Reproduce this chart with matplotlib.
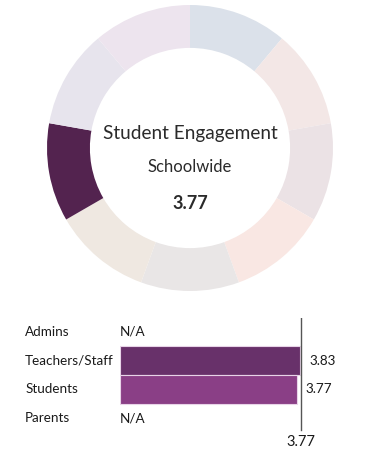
import numpy as np
import matplotlib
matplotlib.use("Agg")
import matplotlib.pyplot as plt

plt.rcParams['font.family'] = ['Lato', 'DejaVu Sans']

# donut: 9 equal domains, only one highlighted
domain_sizes = [1, 1, 1, 1, 1, 1, 1, 1, 1]
domain_colors = ['#dbe1ea', '#f3e7e6', '#ebe2e5', '#f9e7e3', '#e9e6e6',
                 '#efe8e1', '#53234f', '#e7e4ed', '#ede4ee']
title = "Student Engagement"
subtitle = "Schoolwide"
overall = 3.77

# bars
groups = ["Admins", "Teachers/Staff", "Students", "Parents"]
scores = [None, 3.83, 3.77, None]
bar_colors = ['#68316a', '#8a3f86']

fig = plt.figure(figsize=(3.65, 4.66), dpi=100)

ax = fig.add_axes([47/365, 1 - 291/466, 286/365, 286/466])
ax.pie(domain_sizes, colors=domain_colors, startangle=90, counterclock=False,
       wedgeprops=dict(width=0.3, linewidth=0))
ax.set_xlim(-1, 1)
ax.set_ylim(-1, 1)
ax.axis('off')
ax.text(0, 0.10, title, ha='center', va='center', fontsize=13.7, color='#2a2a2a')
ax.text(0, -0.13, subtitle, ha='center', va='center', fontsize=12, color='#2a2a2a')
ax.text(0, -0.39, f"{overall:.2f}", ha='center', va='center', fontsize=13,
        fontweight='bold', color='#2a2a2a')

bx = fig.add_axes([120/365, 1 - 432.4/466, 188/365, 114.8/466])
fs = 9.7
ci = 0
for i, (g, s) in enumerate(zip(groups, scores)):
    bx.text(-0.505, i, g, transform=bx.get_yaxis_transform(), ha='left',
            va='center', fontsize=fs, color='#1a1a1a')
    if s is None:
        bx.text(0, i, "N/A", ha='left', va='center', fontsize=fs, color='#1a1a1a')
    else:
        bx.barh(i, s, height=1.0, color=bar_colors[ci], edgecolor='#e8d4e8',
                linewidth=0.8, align='center')
        bx.annotate(f"{s:.2f}", (s, i), xytext=(7 if ci == 0 else 6, 0),
                    textcoords='offset points', ha='left', va='center',
                    fontsize=fs, color='#1a1a1a')
        ci += 1
bx.axvline(overall + 0.08, ymin=0.02, color='#555555', linewidth=1)
bx.annotate(f"{overall:.2f}", (overall + 0.08, 3.5), xytext=(0, -2),
            textcoords='offset points', ha='center', va='top', fontsize=10.5,
            color='#1a1a1a', annotation_clip=False)
bx.set_xlim(0, 4)
bx.set_ylim(3.5, -0.5)
bx.axis('off')

fig.savefig("out.png", dpi=100)
